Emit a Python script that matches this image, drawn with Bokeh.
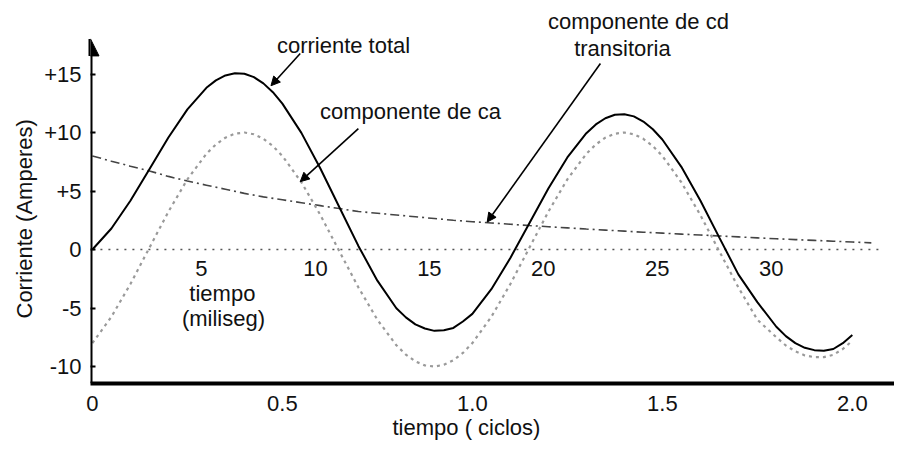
from bokeh.plotting import figure
from bokeh.models import (ColumnDataSource, Range1d, FixedTicker, Label, Arrow,
                          NormalHead, LinearAxis, Title)
from bokeh.core.properties import value
from bokeh.embed import file_html
from bokeh.resources import INLINE

# ---------------- data ----------------
t_fino = [0.00, 0.05, 0.10, 0.15, 0.20, 0.25, 0.30, 0.325, 0.35, 0.375,
          0.40, 0.425, 0.45, 0.475, 0.50, 0.55, 0.60, 0.65, 0.70, 0.75,
          0.80, 0.825, 0.85, 0.875, 0.90, 0.925, 0.95, 0.975, 1.00, 1.05,
          1.10, 1.15, 1.20, 1.25, 1.30, 1.325, 1.35, 1.375, 1.40, 1.425,
          1.45, 1.475, 1.50, 1.55, 1.60, 1.65, 1.70, 1.75, 1.80, 1.825,
          1.85, 1.875, 1.90, 1.925, 1.95, 1.975, 2.00]

corriente_total = [0.0, 1.8, 4.17, 6.87, 9.57, 11.98, 13.82, 14.46, 14.88, 15.07,
                   15.02, 14.73, 14.2, 13.45, 12.47, 9.97, 6.93, 3.61, 0.31, -2.66,
                   -5.02, -5.8, -6.4, -6.75, -6.95, -6.9, -6.7, -6.15, -5.5, -3.39,
                   -0.72, 2.25, 5.21, 7.87, 9.94, 10.69, 11.22, 11.52, 11.57, 11.38,
                   10.94, 10.28, 9.4, 7.07, 4.19, 1.02, -2.12, -4.5, -6.6, -7.4,
                   -8.0, -8.4, -8.6, -8.65, -8.5, -8.0, -7.3]

componente_ca = [-8.0, -5.75, -2.95, 0.15, 3.23, 6.0, 8.18, 8.98, 9.56, 9.9,
                 10.0, 9.85, 9.46, 8.84, 8.0, 5.75, 2.95, -0.15, -3.23, -6.0,
                 -8.18, -8.98, -9.56, -9.9, -10.0, -9.85, -9.46, -8.84, -8.0, -5.75,
                 -2.95, 0.15, 3.23, 6.0, 8.18, 8.98, 9.56, 9.9, 10.0, 9.85,
                 9.46, 8.84, 8.0, 5.75, 2.95, -0.15, -3.23, -6.0, -7.5, -8.2,
                 -8.7, -9.05, -9.2, -9.2, -9.0, -8.5, -7.8]

t_cd = [0.00, 0.05, 0.10, 0.15, 0.20, 0.25, 0.30, 0.35, 0.40, 0.45,
        0.50, 0.55, 0.60, 0.65, 0.70, 0.75, 0.80, 0.85, 0.90, 0.95,
        1.00, 1.05, 1.10, 1.15, 1.20, 1.25, 1.30, 1.35, 1.40, 1.45,
        1.50, 1.55, 1.60, 1.65, 1.70, 1.75, 1.80, 1.85, 1.90, 1.95,
        2.00, 2.05]
componente_cd = [8.0, 7.55, 7.12, 6.72, 6.25, 5.85, 5.5, 5.15, 4.8, 4.5,
                 4.25, 4.0, 3.75, 3.5, 3.25, 3.1, 2.95, 2.8, 2.65, 2.5,
                 2.38, 2.27, 2.16, 2.05, 1.95, 1.85, 1.75, 1.66, 1.57, 1.48,
                 1.4, 1.32, 1.24, 1.16, 1.08, 1.0, 0.92, 0.85, 0.78, 0.71,
                 0.64, 0.57]

t_cero = [0.0, 2.07]
cero = [0.0, 0.0]

ms_ticks = [5, 10, 15, 20, 25, 30]
ms_por_ciclo = 1000.0 / 60.0

y_ticks = [-10, -5, 0, 5, 10, 15]
y_labels = ["-10", "-5", "0", "+5", "+10", "+15"]
x_ticks = [0.0, 0.5, 1.0, 1.5, 2.0]
x_labels = ["0", "0.5", "1.0", "1.5", "2.0"]

# ---------------- figure ----------------
FONT = "Liberation Sans"
FS = "22px"
X0, X1 = -0.005, 2.111
Y0, Y1 = -11.45, 20.6

p = figure(width=894, height=445, output_backend="svg", toolbar_location=None,
           x_range=Range1d(X0, X1), y_range=Range1d(Y0, Y1),
           x_axis_location=None, y_axis_location=None,
           min_border_left=90, min_border_right=0, min_border_top=8,
           min_border_bottom=62)
p.outline_line_color = None
p.xgrid.visible = False
p.ygrid.visible = False
p.background_fill_color = "white"

# bottom axis (line + tick labels)
xax = LinearAxis(ticker=FixedTicker(ticks=x_ticks),
                 major_label_overrides={t: s for t, s in zip(x_ticks, x_labels)})
xax.axis_line_width = 4
xax.axis_line_color = "black"
xax.major_tick_line_color = None
xax.minor_tick_line_color = None
xax.major_tick_out = 0
xax.major_tick_in = 0
xax.major_label_standoff = 12
xax.major_label_text_font = FONT
xax.major_label_text_font_size = FS
xax.major_label_text_color = "#111111"
p.add_layout(xax, "below")

# left axis (tick labels), line drawn separately with an arrow
yax = LinearAxis(ticker=FixedTicker(ticks=y_ticks),
                 major_label_overrides={t: s for t, s in zip(y_ticks, y_labels)})
yax.axis_line_color = None
yax.major_tick_in = 5
yax.major_tick_out = 0
yax.major_tick_line_width = 2
yax.major_tick_line_color = "black"
yax.minor_tick_line_color = None
yax.major_label_standoff = 9
yax.major_label_text_font = FONT
yax.major_label_text_font_size = FS
yax.major_label_text_color = "#111111"
p.add_layout(yax, "left")

# axis titles
p.add_layout(Title(text="tiempo ( ciclos)", align="left", offset=302,
                   vertical_align="top", standoff=2, text_font=FONT,
                   text_font_size=FS, text_font_style="normal",
                   text_color="#111111"), "below")
p.add_layout(Title(text="Corriente (Amperes)", align="left", offset=65,
                   vertical_align="middle", standoff=8, text_font=FONT,
                   text_font_size=FS, text_font_style="normal",
                   text_color="#111111"), "left")

# vertical axis line with arrow
p.add_layout(Arrow(x_start=X0, y_start=Y0, x_end=X0, y_end=18.0,
                   line_width=4, line_color="black",
                   end=NormalHead(size=17, fill_color="black", line_color="black")))

# curves
p.line(t_cero, cero, line_color="#555555", line_width=1.5, line_dash="2 6")
p.line(t_cd, componente_cd, line_color="#444444", line_width=1.6,
       line_dash="9 4 2 4")
p.line(t_fino, componente_ca, line_color="#9a9a9a", line_width=2.2,
       line_dash="3 4")
p.line(t_fino, corriente_total, line_color="black", line_width=2)

# millisecond labels along the zero line
ms_src = ColumnDataSource(dict(x=[m / ms_por_ciclo for m in ms_ticks],
                               y=[0.0] * len(ms_ticks),
                               txt=[str(m) for m in ms_ticks]))
p.text(x="x", y="y", text="txt", source=ms_src, text_font=value(FONT),
       text_font_size=FS, text_align="center", text_baseline="top",
       x_offset=-5, y_offset=11, text_color="#111111")


def lbl(x, y, text):
    p.add_layout(Label(x=x, y=y, text=text, text_font=FONT,
                       text_font_size=FS, text_align="center",
                       text_baseline="middle", text_color="#111111"))


def arr(xs, ys, xe, ye):
    p.add_layout(Arrow(x_start=xs, y_start=ys, x_end=xe, y_end=ye,
                       line_width=1.6, line_color="black",
                       end=NormalHead(size=9, fill_color="black",
                                      line_color="black")))


lbl(0.342, -3.76, "tiempo")
lbl(0.345, -5.9, "(miliseg)")

lbl(0.661, 17.4, "corriente total")
arr(0.547, 16.75, 0.47, 14.0)

lbl(0.837, 11.8, "componente de ca")
arr(0.70, 10.34, 0.547, 5.8)

lbl(1.437, 19.45, "componente de cd")
lbl(1.395, 17.2, "transitoria")
arr(1.337, 15.9, 1.039, 2.35)

open("out.html", "w").write(file_html(p, INLINE))
